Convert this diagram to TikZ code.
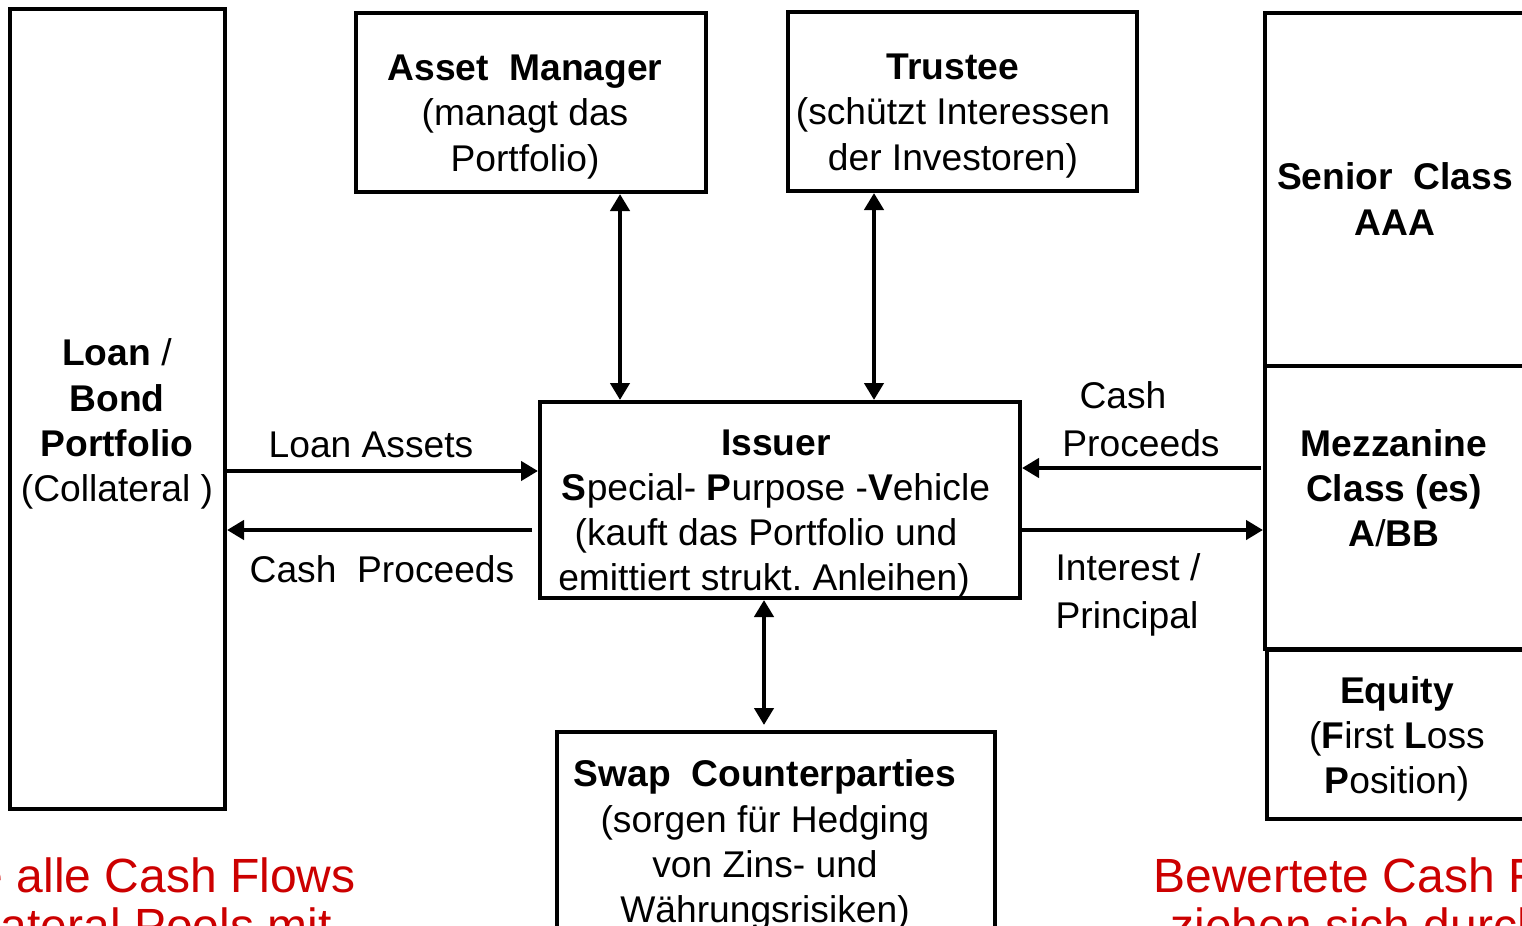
\documentclass[tikz,border=0pt]{standalone}
\usepackage{fontspec}
\setmainfont{Liberation Sans}
\usetikzlibrary{arrows.meta,fit}
\definecolor{notered}{RGB}{204,0,0}
\frenchspacing
\begin{document}
\begin{tikzpicture}[x=0.5pt,y=-0.5pt,
  box/.style={draw, line width=2pt, inner sep=0pt, rectangle},
  txt/.style={align=center, font=\fontsize{18.6}{22.6}\selectfont, inner sep=0pt},
  lbl/.style={font=\fontsize{18.6}{22}\selectfont, inner sep=0pt},
  note/.style={text=notered, font=\fontsize{24}{25}\selectfont, inner sep=0pt},
  tip/.tip={Triangle[length=8.5pt,width=9.5pt]},
  flow/.style={line width=2.4pt, -tip},
  biflow/.style={line width=2.4pt, tip-tip}]

\useasboundingbox (0,0) rectangle (1522,926);
\clip (0,0) rectangle (1522,926);

% boxes
\node[box, fit={(10,9) (225,809)}] (loan) {};
\node[box, fit={(356,13) (706,192)}] (am) {};
\node[box, fit={(788,12) (1137,191)}] (trustee) {};
\node[box, fit={(540,402) (1020,598)}] (issuer) {};
\node[box, fit={(557,732) (995,1000)}] (swap) {};
\node[box, fit={(1265,13) (1600,366)}] (senior) {};
\node[box, fit={(1265,366) (1600,649)}] (mezz) {};
\node[box, fit={(1267,650) (1600,819)}] (equity) {};

% box texts
\node[txt] (loanT) at (117,424) {\textbf{Loan} /\\\textbf{Bond}\\\textbf{Portfolio}\\(Collateral )};
\node[txt] (amT) at (525,117) {\textbf{Asset\ \ Manager}\\(managt das\\Portfolio)};
\node[txt] (trT) at (953,116) {\textbf{Trustee}\\(schützt Interessen\\der Investoren)};
\node[txt] (isT) at (776,514) {\textbf{Issuer}\\\textbf{S}pecial- \textbf{P}urpose -\textbf{V}ehicle\\\kern-10pt(kauft das Portfolio und\\\kern-12pt emittiert strukt. Anleihen)};
\node[txt] (swT) at (765,845) {\textbf{Swap\ \ Counterparties}\\(sorgen für Hedging\\von Zins- und\\Währungsrisiken)};
\node[txt] (seT) at (1395,199) {\textbf{Senior\ \ Class}\\\textbf{AAA}};
\node[txt] (mzT) at (1394,488) {\textbf{Mezzanine}\\\textbf{Class (es)}\\\textbf{A}/\textbf{BB}};
\node[txt] (eqT) at (1397,739) {\textbf{Equity}\\(\textbf{F}irst \textbf{L}oss\\\textbf{P}osition)};

% connectors
\coordinate (la1) at (loan.east |- 0,471);
\coordinate (la2) at (issuer.west |- 0,471);
\coordinate (cp1) at (issuer.west |- 0,530);
\coordinate (cp2) at (loan.east |- 0,530);
\draw[flow] (la1) -- (la2);
\draw[flow, shorten <=3pt] (cp1) -- (cp2);

\coordinate (am1) at (am.south -| 620,0);
\coordinate (am2) at (issuer.north -| 620,0);
\draw[biflow] (am1) -- (am2);
\coordinate (tr1) at (trustee.south -| 874,0);
\coordinate (tr2) at (issuer.north -| 874,0);
\draw[biflow] (tr1) -- (tr2);
\coordinate (sw1) at (issuer.south -| 764,0);
\coordinate (sw2) at (swap.north -| 764,0);
\draw[biflow, shorten >=2.5pt] (sw1) -- (sw2);

\coordinate (rc1) at (mezz.west |- 0,468);
\coordinate (rc2) at (issuer.east |- 0,468);
\coordinate (ip1) at (issuer.east |- 0,530);
\coordinate (ip2) at (mezz.west |- 0,530);
\draw[flow, shorten <=1pt] (rc1) -- (rc2);
\draw[flow] (ip1) -- (ip2);

% connector labels
\node[lbl] (laL) at (371,445) {Loan Assets};
\node[lbl] (cpL) at (382,569) {Cash\ \ Proceeds};
\node[lbl] (rcL1) at (1123,395) {Cash};
\node[lbl] (rcL2) at (1141,443) {Proceeds};
\node[lbl] (ipL1) at (1128,567) {Interest /};
\node[lbl] (ipL2) at (1127,619) {Principal};

% red captions
\node[note, anchor=base east] (nl1) at (356,892) {e alle Cash Flows};
\node[note, anchor=base east] (nl2) at (332,942) {Collateral Pools mit};
\node[note, anchor=base west] (nr1) at (1153,892) {Bewertete Cash Flows};
\node[note, anchor=base west] (nr2) at (1170,942) {ziehen sich durch};
\end{tikzpicture}
\end{document}
